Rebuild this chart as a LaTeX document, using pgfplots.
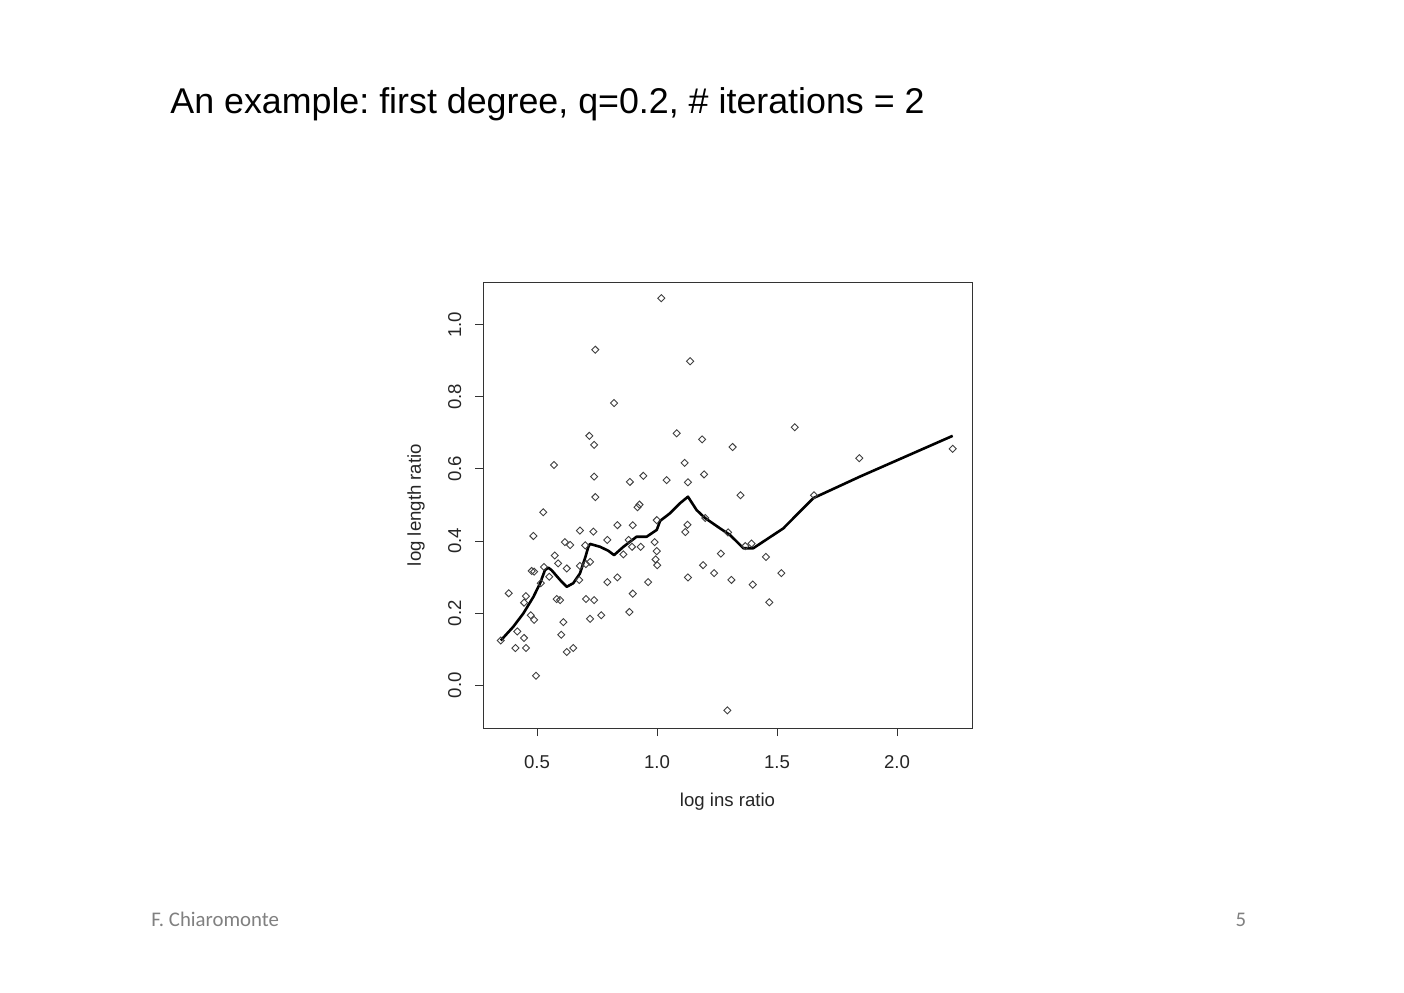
\documentclass[border=0pt]{standalone}
\usepackage{pgfplots}
\pgfplotsset{compat=1.18}
\usepackage{fontspec}
\setmainfont{Liberation Sans}
\newfontfamily\calibri{Carlito}
\frenchspacing
\begin{document}
\begin{tikzpicture}
\path[use as bounding box, fill=white] (0,0) rectangle (702pt,-496pt);
\node[anchor=base west, inner sep=0pt, font=\fontsize{17.9}{21}\selectfont] at (85pt,-56.5pt) {An example: first degree, q=0.2, \# iterations = 2};
\node[anchor=base west, inner sep=0pt, text=black!50, font=\calibri\fontsize{10.4}{12}\selectfont] at (75.5pt,-463pt) {F. Chiaromonte};
\node[anchor=base, inner sep=0pt, text=black!50, font=\calibri\fontsize{10.4}{12}\selectfont] at (620.5pt,-463pt) {5};
\begin{axis}[
  at={(241.5pt,-364pt)}, anchor=south west,
  width=244.5pt, height=223pt, scale only axis,
  xmin=0.275, xmax=2.3125, ymin=-0.119, ymax=1.119,
  axis line style={black!80, line width=0.5pt},
  tick pos=left, tick align=outside, major tick length=4pt,
  tick style={black!80, line width=0.5pt},
  xtick={0.5,1,1.5,2}, ytick={0,0.2,0.4,0.6,0.8,1},
  /pgf/number format/assume math mode=true,
  /pgf/number format/.cd, fixed, fixed zerofill, precision=1, /pgfplots/.cd,
  ticklabel style={font=\fontsize{9.3}{11}\selectfont, text=black!85},
  xticklabel style={inner sep=0pt, anchor=north},
  xticklabel shift=9.5pt,
  yticklabel style={rotate=90, anchor=south, inner sep=0pt},
  yticklabel shift=6.7pt,
  xlabel={log ins ratio}, ylabel={log length ratio},
  label style={font=\fontsize{9.3}{11}\selectfont, text=black!85},
  xlabel style={at={(axis description cs:0.5,-0.165)}, anchor=center},
  ylabel style={at={(axis description cs:-0.137,0.5)}, anchor=center, rotate=0},
  clip=false,
]
\addplot[only marks, mark=square, mark size=1.25pt, mark options={rotate=45, draw=black!75, line width=0.45pt, fill=none}] coordinates {
(0.349,0.124) (0.382,0.255) (0.410,0.103) (0.418,0.149) (0.446,0.229)
(0.446,0.131) (0.454,0.247) (0.454,0.103) (0.474,0.194) (0.478,0.317)
(0.488,0.315) (0.488,0.181) (0.485,0.414) (0.496,0.026) (0.516,0.283)
(0.526,0.480) (0.529,0.328) (0.551,0.301) (0.571,0.611) (0.574,0.360)
(0.588,0.338) (0.582,0.239) (0.596,0.236) (0.601,0.140) (0.610,0.175)
(0.616,0.397) (0.624,0.092) (0.624,0.324) (0.638,0.389) (0.651,0.103)
(0.676,0.292) (0.679,0.331) (0.679,0.429) (0.701,0.388) (0.704,0.336)
(0.704,0.239) (0.718,0.692) (0.721,0.342) (0.721,0.184) (0.735,0.426)
(0.738,0.236) (0.738,0.667) (0.738,0.579) (0.743,0.522) (0.743,0.931)
(0.768,0.194) (0.793,0.403) (0.793,0.286) (0.821,0.783) (0.835,0.444)
(0.835,0.299) (0.860,0.363) (0.882,0.403) (0.885,0.203) (0.887,0.564)
(0.896,0.384) (0.899,0.444) (0.899,0.254) (0.919,0.494) (0.927,0.501)
(0.932,0.384) (0.943,0.581) (0.963,0.286) (0.990,0.397) (0.999,0.372)
(0.994,0.349) (1.001,0.333) (0.999,0.458) (1.018,1.074) (1.040,0.569)
(1.082,0.699) (1.115,0.617) (1.118,0.425) (1.127,0.445) (1.129,0.563)
(1.129,0.299) (1.138,0.899) (1.188,0.682) (1.192,0.333) (1.196,0.585)
(1.201,0.464) (1.238,0.311) (1.266,0.365) (1.293,-0.070) (1.296,0.424)
(1.310,0.292) (1.315,0.661) (1.348,0.527) (1.368,0.386) (1.394,0.393)
(1.399,0.279) (1.454,0.356) (1.468,0.230) (1.518,0.311) (1.574,0.716)
(1.654,0.527) (1.843,0.630) (2.232,0.656)
};
\addplot[black, line width=1.3pt, line join=round] coordinates {
(0.349,0.124) (0.401,0.162) (0.443,0.199) (0.485,0.245) (0.513,0.283)
(0.533,0.319) (0.547,0.326) (0.561,0.319) (0.596,0.292) (0.624,0.273)
(0.651,0.283) (0.679,0.310) (0.700,0.352) (0.714,0.384) (0.721,0.392)
(0.763,0.384) (0.797,0.373) (0.821,0.361) (0.860,0.384) (0.915,0.412)
(0.957,0.412) (0.999,0.431) (1.013,0.456) (1.054,0.477) (1.096,0.505)
(1.129,0.523) (1.165,0.486) (1.200,0.464) (1.263,0.435) (1.304,0.417)
(1.360,0.380) (1.401,0.380) (1.526,0.435) (1.651,0.519) (1.846,0.579)
(2.232,0.692)
};
\end{axis}
\end{tikzpicture}
\end{document}
